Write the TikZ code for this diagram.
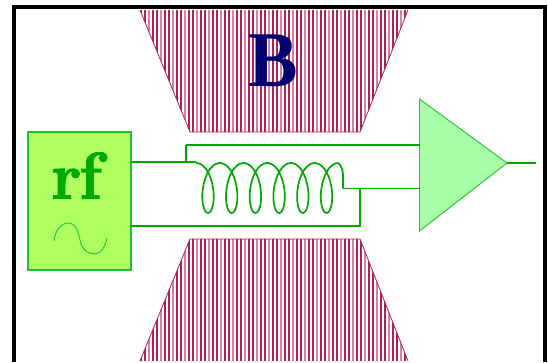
\documentclass[tikz,border=0pt]{standalone}
\usepackage{fontspec}
\newfontfamily\capfont{Liberation Serif}
\newfontfamily\rffont[BoldFeatures={FakeBold=1.6}]{Latin Modern Roman}
\definecolor{hatchred}{HTML}{B02055}
\definecolor{hatchpale}{HTML}{D880A0}
\definecolor{navyb}{HTML}{000070}
\definecolor{wiregreen}{HTML}{00A800}
\definecolor{edgegreen}{HTML}{20C030}
\definecolor{rffill}{HTML}{B0FF60}
\definecolor{ampfill}{HTML}{A8FFA8}
\tikzset{
  wire/.style={draw=wiregreen,line width=1.7pt},
  thickwire/.style={draw=wiregreen,line width=2.6pt},
  hatchline/.style={draw=hatchred,line width=1.9pt},
  paleline/.style={draw=hatchpale,line width=1.7pt},
  bigletter/.style={font=\bfseries\fontsize{#1}{#1}\selectfont,inner sep=0pt,anchor=base}
}
\newcommand{\polehatch}[2]{%
  \foreach \x in {141,153,...,410} \draw[hatchline] (\x,#1) -- (\x,#2);
  \foreach \x in {145,157,...,410} \draw[hatchline] (\x,#1) -- (\x,#2);
  \foreach \x in {149,161,...,410} \draw[paleline] (\x,#1) -- (\x,#2);
}
\begin{document}
\begin{tikzpicture}[x=1pt,y=-1pt]
\useasboundingbox (0,0) rectangle (548,362);
\fill[white] (0,0) rectangle (548,362);
% frame
\draw[line width=3.4pt,black] (14,362) -- (14,7) -- (545,7) -- (545,362);
% pole pieces
\begin{scope}
\clip (140,10) -- (408,10) -- (360,132) -- (190,132) -- cycle;
\polehatch{10}{132}
\end{scope}
\draw[hatchred,line width=.8pt] (140,10) -- (190,132) -- (360,132) -- (408,10);
\begin{scope}
\clip (190,239) -- (360,239) -- (408,361) -- (140,361) -- cycle;
\polehatch{239}{361}
\end{scope}
\draw[hatchred,line width=.8pt] (140,361) -- (190,239) -- (360,239) -- (408,361);
\node[bigletter=79,text=navyb,xscale=.94] (b) at (273,86) {\capfont B};
% rf source
\node[draw=edgegreen,fill=rffill,line width=1.2pt,minimum width=103pt,minimum height=138pt,inner sep=0pt] (rf) at (79.5,201) {};
\node[bigletter=66,text=wiregreen] (rft) at (76.5,198.5) {\rffont r\kern-2.5pt f};
\draw[edgegreen,line width=.9pt] (54,241) .. controls (55,230) and (62,223) .. (68,223)
  .. controls (76,223) and (78,232) .. (80,240)
  .. controls (82,250) and (88,254) .. (95,254)
  .. controls (101,254) and (105,247) .. (107,238);
% amplifier
\coordinate (ampa) at (419.5,99);
\coordinate (ampb) at (419.5,231);
\coordinate (ampc) at (507,163);
\path[fill=ampfill,draw=edgegreen,line width=.9pt] (ampa) -- (ampc) -- (ampb) -- cycle;
% wiring
\coordinate (j1) at (186,162);
\coordinate (cs) at (196,162);
\coordinate (ce) at (338,163);
\coordinate (ce2) at (343,175);
\coordinate (t1) at (186,145);
\coordinate (a1) at (419.5,145);
\coordinate (j2) at (360,188.5);
\coordinate (c3) at (343,188.5);
\coordinate (a2) at (419.5,188.5);
\coordinate (r2) at (131,226);
\coordinate (c2) at (360,226);
\coordinate (o) at (536,163);
\draw[wire] (rf.east |- j1) -- (cs);
\draw[wire] (j1) -- (t1);
\draw[thickwire] (t1) -- (a1);
\draw[wire] (r2) -- (c2) -- (j2);
\draw[wire] (c3) -- (a2);
\draw[wire] (ampc) -- (o);
\draw[wire,line join=round] plot[smooth,domain=-180:1980,samples=220,variable=\t]
  ({208+\t/360*23.7-11*sin(\t)},{188+25*cos(\t)});
\draw[wire] (ce) .. controls (341,165) and (343,170) .. (ce2) -- (c3);
\end{tikzpicture}
\end{document}
